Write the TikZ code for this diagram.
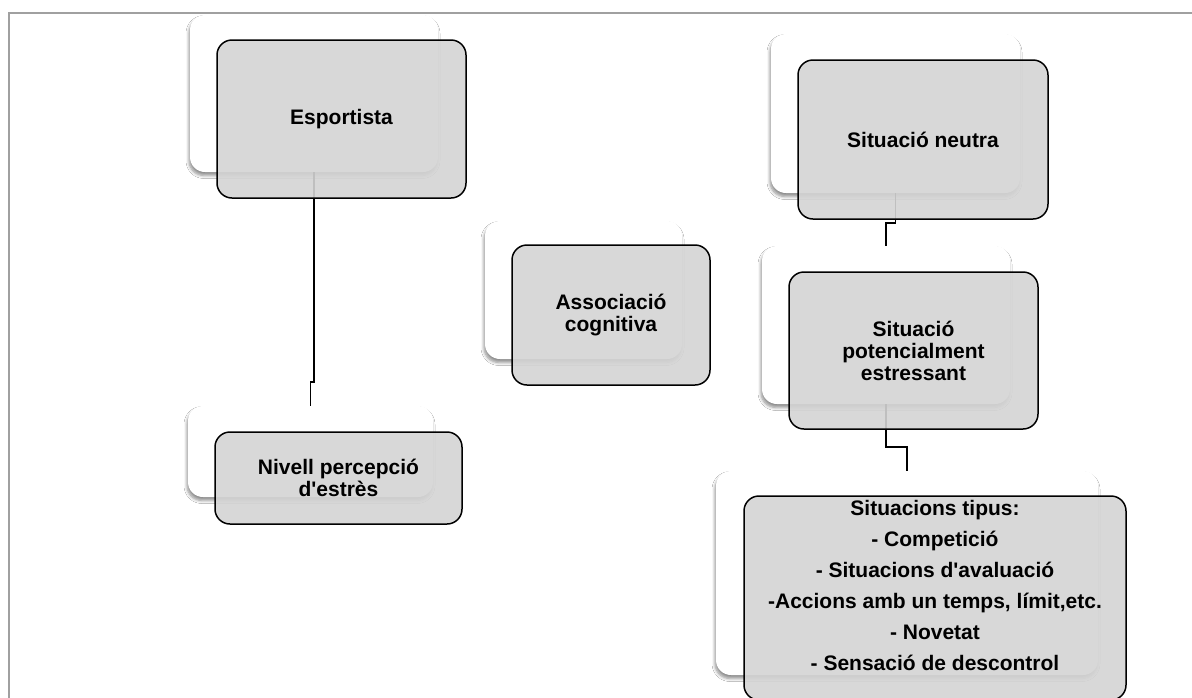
\documentclass[tikz,border=0pt]{standalone}
\usepackage{fontspec}
\setmainfont{Liberation Sans}[Ligatures=TeXOff]
\usetikzlibrary{shadows.blur}
\definecolor{boxgray}{RGB}{212,212,212}
\definecolor{framegray}{RGB}{160,160,160}
\tikzset{
  card/.style={draw=none, fill=white, rounded corners=15, inner sep=0pt,
    blur shadow={shadow xshift=-1pt, shadow yshift=-3.5pt, shadow blur steps=6,
      shadow opacity=45, shadow blur radius=3pt}},
  gbox/.style={draw=black, line width=1.5pt, fill=boxgray, fill opacity=0.9,
    text opacity=1, rounded corners=15, inner sep=0pt, align=center,
    font=\bfseries\fontsize{21}{22}\selectfont},
  conn/.style={draw=black, line width=1.5pt},
  framestyle/.style={draw=framegray, line width=2pt},
  listtext/.style={align=center, inner sep=0pt,
    font=\bfseries\fontsize{21}{31}\selectfont}
}
\begin{document}
\begin{tikzpicture}[x=1pt,y=1pt]
\path[use as bounding box, clip] (0,0) rectangle (1192,-697);
\fill[white] (0,0) rectangle (1192,-697);
% frame
\draw[framestyle] (9,-720) -- (9,-13) -- (1220,-13);

% back cards
\node[card, minimum width=248, minimum height=157] (wE) at (314,-93.5) {};
\node[card, minimum width=245, minimum height=91]  (wN) at (310.5,-451.5) {};
\node[card, minimum width=197, minimum height=138] (wA) at (583.5,-290) {};
\node[card, minimum width=249, minimum height=159] (wS) at (895.5,-113.5) {};
\node[card, minimum width=248, minimum height=158] (wP) at (886,-325) {};
\node[card, minimum width=382, minimum height=204] (wT) at (907,-573) {};

% connectors
\coordinate (j1) at (0,-382);
\coordinate (j2) at (0,-223);
\coordinate (j3) at (0,-447);
\draw[conn] (wE.south) -- (wE.south |- j1) -| (wN.north);
\draw[conn] (wS.south) -- (wS.south |- j2) -| (wP.north);
\draw[conn] (wP.south) -- (wP.south |- j3) -| (wT.north);

% front boxes
\node[gbox, minimum width=249, minimum height=158] (gE) at (341.5,-119) {Esportista};
\node[gbox, minimum width=247, minimum height=92]  (gN) at (338.5,-478) {Nivell percepció\\d'estrès};
\node[gbox, minimum width=198, minimum height=140] (gA) at (611,-315) {Associació\\cognitiva};
\node[gbox, minimum width=250, minimum height=159] (gS) at (923,-139.5) {Situació neutra};
\node[gbox, minimum width=249, minimum height=157] (gP) at (913.5,-350.5) {Situació\\potencialment\\estressant};
\node[gbox, minimum width=382, minimum height=204] (gT) at (935,-598) {};
\begin{scope}
  \clip[rounded corners=15] (gT.south west) rectangle (gT.north east);
  \node[listtext] (tT) at (935,-585) {Situacions tipus:\\- Competició\\- Situacions d'avaluació\\-Accions amb un temps, límit,etc.\\- Novetat\\- Sensació de descontrol};
\end{scope}
\end{tikzpicture}
\end{document}
